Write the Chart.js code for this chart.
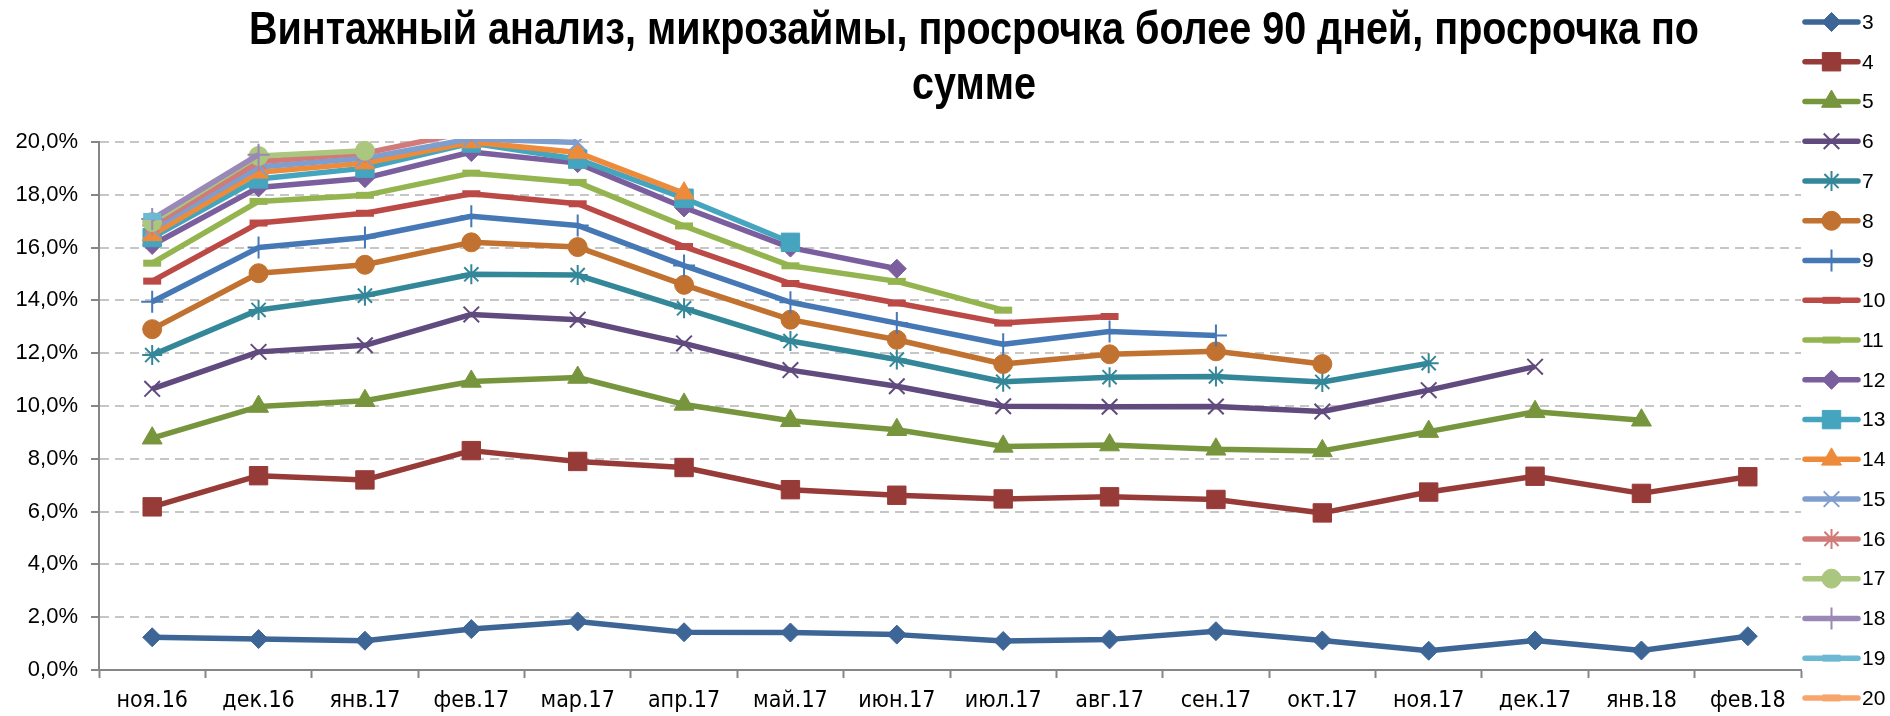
<!DOCTYPE html>
<html lang="ru">
<head>
<meta charset="utf-8">
<title>Винтажный анализ, микрозаймы</title>
<script src="https://cdn.jsdelivr.net/npm/chart.js@4/dist/chart.umd.min.js"></script>
<style>
  html, body { margin: 0; padding: 0; background: #ffffff; }
  #wrap { width: 1890px; height: 716px; }
</style>
</head>
<body>
<div id="wrap"><canvas id="vintage" width="1890" height="716"></canvas></div>
<script>
// Months of observation (x axis)
const months = ['ноя.16','дек.16','янв.17','фев.17','мар.17','апр.17','май.17','июн.17',
                'июл.17','авг.17','сен.17','окт.17','ноя.17','дек.17','янв.18','фев.18'];

// Share of portfolio more than 90 days overdue, % (one series per vintage month)
const series3  = [1.24, 1.17, 1.11, 1.55, 1.84, 1.43, 1.42, 1.34, 1.10, 1.16, 1.47, 1.12, 0.73, 1.12, 0.74, 1.28];
const series4  = [6.18, 7.36, 7.20, 8.31, 7.90, 7.67, 6.83, 6.62, 6.48, 6.56, 6.46, 5.95, 6.74, 7.34, 6.69, 7.32];
const series5  = [8.78, 9.98, 10.20, 10.93, 11.08, 10.06, 9.44, 9.10, 8.47, 8.52, 8.36, 8.30, 9.03, 9.78, 9.46, null];
const series6  = [10.65, 12.05, 12.30, 13.47, 13.27, 12.37, 11.36, 10.75, 9.99, 9.97, 9.98, 9.79, 10.60, 11.49, null, null];
const series7  = [11.93, 13.64, 14.18, 14.99, 14.96, 13.70, 12.46, 11.76, 10.92, 11.09, 11.12, 10.91, 11.62, null, null, null];
const series8  = [12.91, 15.03, 15.35, 16.20, 16.02, 14.59, 13.27, 12.51, 11.59, 11.96, 12.07, 11.59, null, null, null, null];
const series9  = [13.95, 16.00, 16.38, 17.19, 16.84, 15.32, 13.93, 13.14, 12.34, 12.82, 12.67, null, null, null, null, null];
const series10 = [14.73, 16.93, 17.30, 18.04, 17.66, 16.04, 14.64, 13.90, 13.14, 13.39, null, null, null, null, null, null];
const series11 = [15.41, 17.75, 17.98, 18.82, 18.47, 16.82, 15.31, 14.72, 13.63, null, null, null, null, null, null, null];
const series12 = [16.10, 18.28, 18.63, 19.62, 19.20, 17.52, 16.00, 15.20, null, null, null, null, null, null, null, null];
const series13 = [16.38, 18.60, 19.01, 19.96, 19.35, 17.87, 16.20, null, null, null, null, null, null, null, null, null];
const series14 = [16.48, 18.85, 19.20, 20.00, 19.60, 18.06, null, null, null, null, null, null, null, null, null, null];
const series15 = [16.70, 19.05, 19.39, 20.12, 19.98, null, null, null, null, null, null, null, null, null, null, null];
const series16 = [16.84, 19.25, 19.58, 20.40, null, null, null, null, null, null, null, null, null, null, null, null];
const series17 = [16.97, 19.47, 19.67, null, null, null, null, null, null, null, null, null, null, null, null, null];
const series18 = [17.08, 19.52, null, null, null, null, null, null, null, null, null, null, null, null, null, null];
const series19 = [17.18, null, null, null, null, null, null, null, null, null, null, null, null, null, null, null];
const series20 = [null, null, null, null, null, null, null, null, null, null, null, null, null, null, null, null];

const seriesNames = ['3','4','5','6','7','8','9','10','11','12','13','14','15','16','17','18','19','20'];
const seriesValues = [series3, series4, series5, series6, series7, series8, series9, series10, series11,
                      series12, series13, series14, series15, series16, series17, series18, series19, series20];

// Y axis range and step, %
const yMin = 0, yMax = 20, yStep = 2;

// Chart heading (two lines)
const headingLines = ['Винтажный анализ, микрозаймы, просрочка более 90 дней, просрочка по', 'сумме'];

// Appearance of each series: colour, marker shape, marker radius, marker stroke width
const seriesColors = ['#3D6596','#973B38','#77953D','#604A7E','#338799','#C27230','#4578B5','#BB4946','#94B44F',
                      '#7A5E9D','#45A5BF','#EE8B3B','#7D9ECE','#D07B78','#ABC67E','#9A88B7','#6DB8D3','#F7A56B'];
const markerShapes = ['rectRot','rect','triangle','crossRot','star','circle','cross','line','line',
                      'rectRot','rect','triangle','crossRot','star','circle','cross','line','line'];
const markerRadius = { rectRot: 9.5, rect: 13, triangle: 11.5, crossRot: 11, star: 10, circle: 9.5, cross: 11, line: 9 };
const markerStroke = { rectRot: 1, rect: 1, triangle: 1, crossRot: 2, star: 2, circle: 1, cross: 2, line: 7 };

const FONT_REGULAR = "'Liberation Sans', Arial, sans-serif";
const FONT_NARROW = "'Liberation Sans Narrow', 'Arial Narrow', 'DejaVu Sans Condensed', sans-serif";

const datasets = seriesValues.map((values, i) => {
  const shape = markerShapes[i];
  return {
    label: seriesNames[i],
    data: values,
    borderColor: seriesColors[i],
    backgroundColor: seriesColors[i],
    pointBackgroundColor: seriesColors[i],
    pointBorderColor: seriesColors[i],
    borderWidth: 5.5,
    borderJoinStyle: 'round',
    pointStyle: shape,
    pointRadius: markerRadius[shape],
    pointHoverRadius: markerRadius[shape],
    pointBorderWidth: markerStroke[shape],
    tension: 0,
    spanGaps: false,
    clip: { left: false, top: 3, right: false, bottom: false },
    order: seriesValues.length - i
  };
});

// Two-line heading above the plot, set in a condensed bold face
const heading = {
  id: 'heading',
  afterDraw(chart) {
    const ctx = chart.ctx;
    const centerX = 974, firstBaseline = 44, lineGap = 55, firstLineWidth = 1450;
    ctx.save();
    ctx.fillStyle = '#000000';
    ctx.font = "bold 46px " + FONT_REGULAR;
    ctx.textAlign = 'center';
    ctx.textBaseline = 'alphabetic';
    const squeeze = Math.min(1, firstLineWidth / ctx.measureText(headingLines[0]).width);
    headingLines.forEach((line, i) => {
      ctx.save();
      ctx.translate(centerX, firstBaseline + i * lineGap);
      ctx.scale(squeeze, 1);
      ctx.fillText(line, 0, 0);
      ctx.restore();
    });
    ctx.restore();
  }
};

// Series key on the right: a line with the series marker and its name
const seriesKey = {
  id: 'seriesKey',
  afterDraw(chart) {
    const ctx = chart.ctx;
    const x0 = 1805, x1 = 1858, textX = 1862, top = 22, step = 39.76;
    chart.data.datasets.forEach((ds, i) => {
      const y = top + i * step;
      ctx.save();
      ctx.strokeStyle = ds.borderColor;
      ctx.lineWidth = ds.borderWidth;
      ctx.lineCap = 'round';
      ctx.beginPath();
      ctx.moveTo(x0, y);
      ctx.lineTo(x1, y);
      ctx.stroke();
      ctx.lineCap = 'butt';
      ctx.fillStyle = ds.pointBackgroundColor;
      ctx.strokeStyle = ds.pointBorderColor;
      ctx.lineWidth = ds.pointBorderWidth;
      Chart.helpers.drawPoint(ctx, {
        pointStyle: ds.pointStyle,
        radius: ds.pointRadius,
        rotation: 0,
        borderWidth: ds.pointBorderWidth
      }, (x0 + x1) / 2, y);
      ctx.fillStyle = '#000000';
      ctx.font = "21px " + FONT_REGULAR;
      ctx.textAlign = 'left';
      ctx.textBaseline = 'middle';
      ctx.fillText(ds.label, textX, y + 1);
      ctx.restore();
    });
  }
};

new Chart(document.getElementById('vintage'), {
  type: 'line',
  data: { labels: months, datasets: datasets },
  plugins: [heading, seriesKey],
  options: {
    responsive: false,
    devicePixelRatio: 1,
    animation: false,
    layout: { padding: { top: 142, right: 89, bottom: 0, left: 0 } },
    plugins: {
      legend: { display: false },
      title: { display: false },
      tooltip: { enabled: false }
    },
    elements: { line: { borderCapStyle: 'butt' } },
    scales: {
      x: {
        type: 'category',
        offset: true,
        afterFit: (s) => { s.height = 46; },
        grid: {
          offset: true,
          drawOnChartArea: false,
          drawTicks: true,
          tickLength: 8,
          tickColor: '#868686',
          tickWidth: 2
        },
        border: { display: true, color: '#868686', width: 2 },
        ticks: {
          color: '#000000',
          font: { family: FONT_NARROW, size: 23 },
          padding: 9,
          maxRotation: 0,
          autoSkip: false
        }
      },
      y: {
        min: yMin,
        max: yMax,
        afterFit: (s) => { s.width = 99; },
        grid: {
          color: '#C6C6C6',
          lineWidth: 2,
          drawTicks: true,
          tickLength: 8,
          tickColor: '#868686',
          tickWidth: 2,
          tickBorderDash: []
        },
        border: { display: true, color: '#868686', width: 2, dash: [9, 6] },
        ticks: {
          stepSize: yStep,
          color: '#000000',
          font: { family: FONT_REGULAR, size: 22 },
          padding: 13,
          callback: (v) => v.toFixed(1).replace('.', ',') + '%'
        }
      }
    }
  }
});
</script>
</body>
</html>
